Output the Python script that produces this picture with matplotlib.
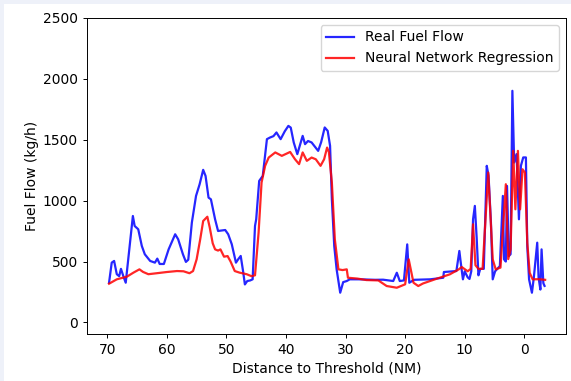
import numpy as np
import matplotlib
matplotlib.use("Agg")
import matplotlib.pyplot as plt
from matplotlib.patches import Rectangle

# real fuel flow (blue)
real_x = [69.7, 69.25, 68.85, 68.4, 68.0, 67.7, 67.3, 66.9, 66.3, 65.7, 65.4, 64.8, 64.2, 63.7,
          62.8, 62.0, 61.6, 61.2, 60.5, 59.7, 58.6, 58.1, 57.3, 56.8, 56.4, 55.8, 55.1, 54.5,
          53.9, 53.5, 53.0, 52.6, 51.9, 51.4, 50.8, 50.2, 49.7, 49.1, 48.4, 48.0, 47.6, 47.2,
          46.9, 46.5, 46.0, 45.6, 45.2, 45.0, 44.5, 43.9, 43.2, 42.7, 42.1, 41.6, 40.9, 40.2,
          39.6, 39.2, 38.7, 38.1, 37.7, 37.2, 36.8, 36.3, 35.7, 34.6, 34.1, 33.5, 33.0, 32.6,
          32.3, 31.9, 31.5, 30.9, 30.4, 29.8, 29.3, 27.6, 25.0, 23.7, 22.0, 21.4, 20.9, 20.2,
          19.65, 19.3, 18.5, 15.8, 13.6, 13.5, 12.0, 11.4, 10.9, 10.7, 10.3, 10.0, 9.5, 9.2,
          8.9, 8.6, 8.3, 8.0, 7.7, 7.4, 6.8, 6.3, 6.0, 5.6, 5.3, 4.9, 4.1, 3.6, 3.4, 3.1, 2.9,
          2.6, 2.3, 2.0, 1.7, 1.3, 0.9, 0.57, 0.18, -0.27, -0.5, -0.8, -1.28, -1.6, -2.17,
          -2.4, -2.7, -2.9, -3.2, -3.4]
real_y = [326, 491, 505, 396, 380, 440, 380, 326, 600, 874, 792, 765, 628, 560,
          505, 491, 524, 480, 480, 600, 724, 683, 560, 497, 515, 820, 1039, 1134,
          1253, 1203, 1025, 1011, 847, 751, 755, 759, 724, 642, 491, 520, 546, 420,
          312, 340, 345, 354, 792, 847, 1162, 1203, 1505, 1518, 1530, 1560, 1505, 1570,
          1614, 1600, 1478, 1382, 1450, 1532, 1464, 1490, 1478, 1409, 1480, 1601, 1573, 1450,
          1011, 627, 436, 244, 331, 340, 354, 354, 350, 351, 340, 408, 340, 345,
          641, 326, 350, 354, 367, 414, 420, 422, 587, 505, 354, 420, 370, 357,
          420, 847, 957, 700, 387, 440, 440, 1286, 1205, 820, 354, 420, 463, 1039, 518, 500, 1121,
          545, 560, 1902, 1313, 1382, 847, 1286, 1355, 1355, 627, 354, 244, 368, 655,
          368, 270, 600, 322, 300]

# neural network regression (red)
nn_x = [69.7, 68.4, 66.7, 65.6, 64.6, 64.0, 63.1, 61.7, 60.0, 58.3, 57.2, 56.2, 55.6, 55.0,
        54.4, 53.9, 53.2, 52.8, 52.3, 51.9, 51.4, 51.0, 50.4, 49.8, 49.3, 48.6, 47.8, 46.6,
        45.8, 45.2, 44.6, 44.1, 43.5, 42.9, 41.8, 40.7, 39.3, 38.5, 37.8, 37.2, 36.5, 35.7,
        35.0, 34.2, 33.6, 33.1, 32.8, 32.3, 31.8, 31.2, 30.5, 29.8, 29.6, 28.0, 26.5, 24.5,
        23.1, 21.4, 20.0, 19.4, 18.6, 17.8, 17.0, 14.7, 12.5, 11.0, 10.5, 9.5, 9.0, 8.6,
        8.2, 7.7, 7.0, 6.05, 5.3, 4.8, 4.0, 3.1, 2.7, 2.3, 1.86, 1.5, 1.07, 0.7, 0.3, -0.1,
        -0.5, -0.9, -1.4, -2.5, -3.5]
nn_y = [318, 354, 376, 409, 436, 415, 396, 404, 414, 422, 420, 404, 422, 518,
        682, 833, 868, 780, 650, 600, 590, 600, 540, 545, 500, 422, 409, 396,
        380, 387, 737, 1149, 1286, 1354, 1396, 1368, 1400, 1341, 1300, 1396, 1327, 1354,
        1340, 1286, 1340, 1436, 1400, 1149, 682, 436, 430, 436, 367, 360, 348, 345,
        299, 285, 313, 518, 326, 299, 320, 359, 395, 436, 455, 420, 440, 806,
        470, 440, 440, 1231, 518, 436, 450, 1135, 520, 600, 1409, 929, 1409, 929, 1258, 1231,
        655, 408, 354, 355, 350]

fig = plt.figure(figsize=(5.71, 3.81), dpi=100)
fig.patch.set_facecolor('#eef1f9')
# white page inside the light frame
fig.patches.append(Rectangle((4/571, 0), 1, 1 - 4/381, transform=fig.transFigure,
                             facecolor='white', edgecolor='none', zorder=-1))

ax = fig.add_axes([87/571, 1 - 334/381, (566 - 87)/571, (334 - 18)/381])
ax.plot(real_x, real_y, color='blue', alpha=0.85, lw=1.6, label='Real Fuel Flow')
ax.plot(nn_x, nn_y, color='red', alpha=0.85, lw=1.6, label='Neural Network Regression')

ax.set_xlim(73.4, -7.0)
ax.set_ylim(-95, 2500)
ax.set_xticks(np.arange(70, -1, -10))
ax.set_yticks(np.arange(0, 2501, 500))
ax.tick_params(labelsize=10, length=3.1, width=0.7)
for s in ax.spines.values():
    s.set_linewidth(0.7)
ax.set_xlabel('Distance to Threshold (NM)', fontsize=10, labelpad=3)
ax.set_ylabel('Fuel Flow (kg/h)', fontsize=10, labelpad=3)
ax.legend(loc='upper right', fontsize=10)

fig.savefig('out.png', dpi=100, facecolor=fig.get_facecolor())
